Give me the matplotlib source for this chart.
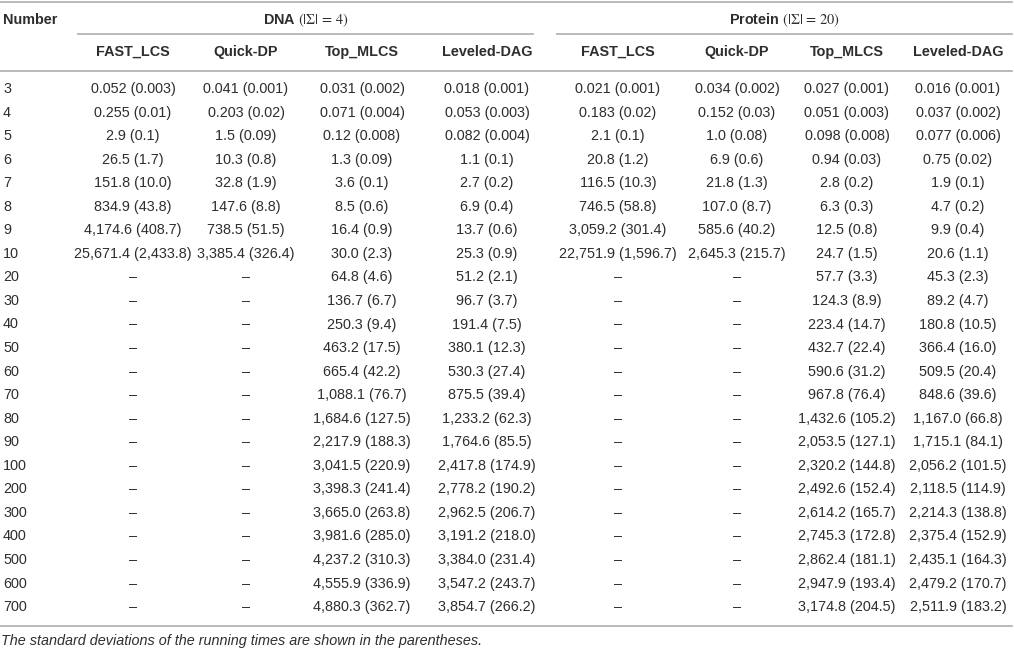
import matplotlib
matplotlib.use('Agg')
import matplotlib.pyplot as plt

plt.rcParams['font.family'] = ['Liberation Sans', 'DejaVu Sans']
plt.rcParams['mathtext.fontset'] = 'stix'

# table data
numbers = [3, 4, 5, 6, 7, 8, 9, 10, 20, 30, 40, 50, 60, 70, 80, 90, 100, 200, 300, 400, 500, 600, 700]
methods = ['FAST_LCS', 'Quick-DP', 'Top_MLCS', 'Leveled-DAG']
groups = [r'DNA $(|\Sigma|\,=\,4)$', r'Protein $(|\Sigma|\,=\,20)$']

dash = '–'
dna_fast = ['0.052 (0.003)', '0.255 (0.01)', '2.9 (0.1)', '26.5 (1.7)', '151.8 (10.0)', '834.9 (43.8)',
            '4,174.6 (408.7)', '25,671.4 (2,433.8)'] + [dash] * 15
dna_quick = ['0.041 (0.001)', '0.203 (0.02)', '1.5 (0.09)', '10.3 (0.8)', '32.8 (1.9)', '147.6 (8.8)',
             '738.5 (51.5)', '3,385.4 (326.4)'] + [dash] * 15
dna_top = ['0.031 (0.002)', '0.071 (0.004)', '0.12 (0.008)', '1.3 (0.09)', '3.6 (0.1)', '8.5 (0.6)',
           '16.4 (0.9)', '30.0 (2.3)', '64.8 (4.6)', '136.7 (6.7)', '250.3 (9.4)', '463.2 (17.5)',
           '665.4 (42.2)', '1,088.1 (76.7)', '1,684.6 (127.5)', '2,217.9 (188.3)', '3,041.5 (220.9)',
           '3,398.3 (241.4)', '3,665.0 (263.8)', '3,981.6 (285.0)', '4,237.2 (310.3)', '4,555.9 (336.9)',
           '4,880.3 (362.7)']
dna_lev = ['0.018 (0.001)', '0.053 (0.003)', '0.082 (0.004)', '1.1 (0.1)', '2.7 (0.2)', '6.9 (0.4)',
           '13.7 (0.6)', '25.3 (0.9)', '51.2 (2.1)', '96.7 (3.7)', '191.4 (7.5)', '380.1 (12.3)',
           '530.3 (27.4)', '875.5 (39.4)', '1,233.2 (62.3)', '1,764.6 (85.5)', '2,417.8 (174.9)',
           '2,778.2 (190.2)', '2,962.5 (206.7)', '3,191.2 (218.0)', '3,384.0 (231.4)', '3,547.2 (243.7)',
           '3,854.7 (266.2)']
prot_fast = ['0.021 (0.001)', '0.183 (0.02)', '2.1 (0.1)', '20.8 (1.2)', '116.5 (10.3)', '746.5 (58.8)',
             '3,059.2 (301.4)', '22,751.9 (1,596.7)'] + [dash] * 15
prot_quick = ['0.034 (0.002)', '0.152 (0.03)', '1.0 (0.08)', '6.9 (0.6)', '21.8 (1.3)', '107.0 (8.7)',
              '585.6 (40.2)', '2,645.3 (215.7)'] + [dash] * 15
prot_top = ['0.027 (0.001)', '0.051 (0.003)', '0.098 (0.008)', '0.94 (0.03)', '2.8 (0.2)', '6.3 (0.3)',
            '12.5 (0.8)', '24.7 (1.5)', '57.7 (3.3)', '124.3 (8.9)', '223.4 (14.7)', '432.7 (22.4)',
            '590.6 (31.2)', '967.8 (76.4)', '1,432.6 (105.2)', '2,053.5 (127.1)', '2,320.2 (144.8)',
            '2,492.6 (152.4)', '2,614.2 (165.7)', '2,745.3 (172.8)', '2,862.4 (181.1)', '2,947.9 (193.4)',
            '3,174.8 (204.5)']
prot_lev = ['0.016 (0.001)', '0.037 (0.002)', '0.077 (0.006)', '0.75 (0.02)', '1.9 (0.1)', '4.7 (0.2)',
            '9.9 (0.4)', '20.6 (1.1)', '45.3 (2.3)', '89.2 (4.7)', '180.8 (10.5)', '366.4 (16.0)',
            '509.5 (20.4)', '848.6 (39.6)', '1,167.0 (66.8)', '1,715.1 (84.1)', '2,056.2 (101.5)',
            '2,118.5 (114.9)', '2,214.3 (138.8)', '2,375.4 (152.9)', '2,435.1 (164.3)', '2,479.2 (170.7)',
            '2,511.9 (183.2)']
footnote = 'The standard deviations of the running times are shown in the parentheses.'

columns = [dna_fast, dna_quick, dna_top, dna_lev, prot_fast, prot_quick, prot_top, prot_lev]

# layout (pixels)
W, H = 1014, 649
col_x = [133, 246, 362, 487, 618, 737, 847, 958]
group_span = [(78, 533), (557, 1012)]
y_first, dy = 89, 23.55
fs = 10.4
txt = '#2e2e2e'
line_c = '#b4b4b4'

fig = plt.figure(figsize=(W / 100, H / 100), dpi=100)
ax = fig.add_axes([0, 0, 1, 1])
ax.set_xlim(0, W)
ax.set_ylim(H, 0)
ax.axis('off')

# rules
ax.plot([0, 1012], [2, 2], color=line_c, lw=1.3)
for x0, x1 in group_span:
    ax.plot([x0, x1], [33.5, 33.5], color=line_c, lw=1.3)
ax.plot([0, 1012], [70.5, 70.5], color=line_c, lw=1.3)
ax.plot([0, 1012], [626, 626], color=line_c, lw=1.3)

# headers
ax.text(3, 20, 'Number', ha='left', va='center', fontsize=fs, fontweight='bold', color=txt)
for (x0, x1), g in zip(group_span, groups):
    ax.text((x0 + x1) / 2, 20, g, ha='center', va='center', fontsize=fs, fontweight='bold', color=txt)
for i, x in enumerate(col_x):
    ax.text(x, 52, methods[i % 4], ha='center', va='center', fontsize=fs, fontweight='bold', color=txt)

# body
for r, n in enumerate(numbers):
    y = y_first + r * dy
    ax.text(3, y, str(n), ha='left', va='center', fontsize=fs, color=txt)
    for x, col in zip(col_x, columns):
        ax.text(x, y, col[r], ha='center', va='center', fontsize=fs, color=txt)

ax.text(1, 641, footnote, ha='left', va='center', fontsize=fs, style='italic', color=txt)

fig.savefig('out.png', dpi=100)
